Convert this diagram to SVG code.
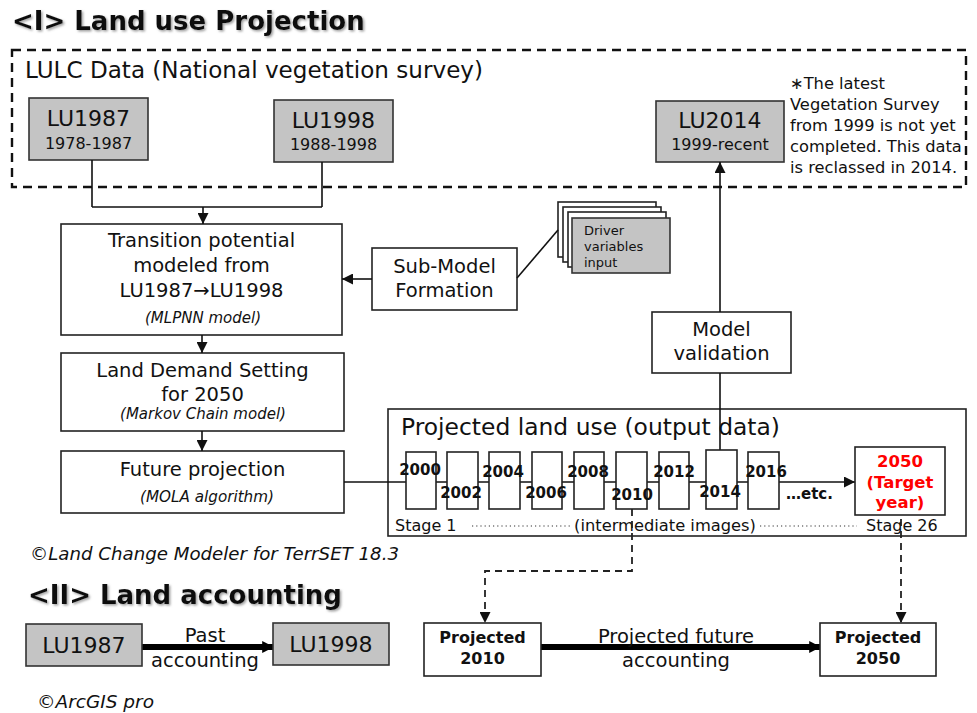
<svg xmlns="http://www.w3.org/2000/svg" width="977" height="713" viewBox="0 0 977 713">
<defs>
<style>
text{font-family:"DejaVu Sans","Liberation Sans",sans-serif;fill:#111}
.box{fill:#fff;stroke:#222;stroke-width:1.6}
.gray{fill:#c4c4c4;stroke:#333;stroke-width:1.6}
.ln{fill:none;stroke:#111;stroke-width:1.6}
.dash{fill:none;stroke:#222;stroke-width:1.8;stroke-dasharray:7 5}
.thick{fill:none;stroke:#000;stroke-width:6}
.title{font-weight:bold;font-size:26px;filter:url(#sh)}
.c{text-anchor:middle}
.it{font-style:italic}
.yr{font-weight:bold;font-size:15px;text-anchor:middle}
.red{font-weight:bold;font-size:16.5px;text-anchor:middle;fill:#f00}
</style>
<filter id="sh" x="-5%" y="-20%" width="110%" height="150%">
<feDropShadow dx="1.5" dy="1.5" stdDeviation="1" flood-color="#777" flood-opacity="0.7"/>
</filter>
<marker id="ah" viewBox="0 0 10 10" refX="10" refY="5" markerWidth="11" markerHeight="11" markerUnits="userSpaceOnUse" orient="auto">
<path d="M0,0 L10,5 L0,10 z" fill="#111"/>
</marker>
<marker id="ahb" viewBox="0 0 10 10" refX="9" refY="5" markerWidth="12" markerHeight="14" markerUnits="userSpaceOnUse" orient="auto">
<path d="M0,0 L10,5 L0,10 z" fill="#000"/>
</marker>
</defs>
<rect width="977" height="713" fill="#fff"/>

<text class="title" x="12" y="30">&lt;I&gt; Land use Projection</text>

<g id="lulc">
<rect x="12" y="50" width="954" height="137" fill="none" stroke="#111" stroke-width="2.4" stroke-dasharray="9 6"/>
<text x="25" y="78" font-size="22.5" textLength="458" lengthAdjust="spacingAndGlyphs">LULC Data (National vegetation survey)</text>
</g>

<g id="lu1987">
<rect class="gray" x="29" y="98" width="119" height="62"/>
<text class="c" x="88.5" y="126" font-size="22">LU1987</text>
<text class="c" x="88.5" y="149" font-size="16">1978-1987</text>
</g>
<g id="lu1998">
<rect class="gray" x="274" y="100" width="119" height="62"/>
<text class="c" x="333.5" y="128" font-size="22">LU1998</text>
<text class="c" x="333.5" y="150" font-size="16">1988-1998</text>
</g>
<g id="lu2014">
<rect class="gray" x="656" y="101" width="128" height="61"/>
<text class="c" x="720" y="128" font-size="22">LU2014</text>
<text class="c" x="720" y="150" font-size="16">1999-recent</text>
</g>
<g id="note" font-size="16.3">
<text x="790" y="89">∗The latest</text>
<text x="790" y="110">Vegetation Survey</text>
<text x="790" y="131">from 1999 is not yet</text>
<text x="790" y="152">completed. This data</text>
<text x="790" y="173">is reclassed in 2014.</text>
</g>

<g id="transition">
<rect class="box" x="61" y="224" width="281" height="111"/>
<text class="c" x="201.5" y="247" font-size="19.5">Transition potential</text>
<text class="c" x="201.5" y="272" font-size="19.5">modeled from</text>
<text class="c" x="201.5" y="297" font-size="19.5">LU1987→LU1998</text>
<text class="c it" x="203" y="323" font-size="15" fill="#333">(MLPNN model)</text>
</g>
<g id="demand">
<rect class="box" x="61" y="353" width="283" height="78"/>
<text class="c" x="202.5" y="377" font-size="19.5">Land Demand Setting</text>
<text class="c" x="202.5" y="401" font-size="19.5">for 2050</text>
<text class="c it" x="203" y="419" font-size="15" fill="#333">(Markov Chain model)</text>
</g>
<g id="future">
<rect class="box" x="61" y="451" width="283" height="62"/>
<text class="c" x="202.5" y="476" font-size="19.5">Future projection</text>
<text class="c it" x="207" y="502" font-size="15.2" fill="#333">(MOLA algorithm)</text>
</g>
<g id="submodel">
<rect class="box" x="372" y="248" width="145" height="62"/>
<text class="c" x="444.5" y="273" font-size="19.5">Sub-Model</text>
<text class="c" x="444.5" y="297" font-size="19.5">Formation</text>
</g>
<g id="driver">
<rect class="box" x="558" y="202" width="98" height="55" stroke="#111"/>
<rect class="box" x="563" y="207" width="98" height="55" stroke="#111"/>
<rect class="box" x="568" y="212" width="98" height="55" stroke="#111"/>
<rect class="gray" x="572" y="218" width="98" height="55" stroke="#555"/>
<text x="584" y="235" font-size="13" fill="#333">Driver</text>
<text x="584" y="251" font-size="13" fill="#333">variables</text>
<text x="584" y="267" font-size="13" fill="#333">input</text>
</g>
<g id="validation">
<rect class="box" x="652" y="312" width="139" height="61"/>
<text class="c" x="721.5" y="336" font-size="19.5">Model</text>
<text class="c" x="721.5" y="360" font-size="19.5">validation</text>
</g>

<g id="projected">
<rect class="box" x="388" y="409" width="578" height="127"/>
<text x="401" y="435" font-size="23" textLength="379" lengthAdjust="spacingAndGlyphs">Projected land use (output data)</text>
<text x="395" y="531" font-size="16">Stage 1</text>
<text class="c" x="665" y="531" font-size="16.3">(intermediate images)</text>
<text x="866" y="531" font-size="16">Stage 26</text>
<line x1="472" y1="526" x2="571" y2="526" stroke="#333" stroke-width="1.2" stroke-dasharray="1.2 3"/>
<line x1="760" y1="526" x2="857" y2="526" stroke="#333" stroke-width="1.2" stroke-dasharray="1.2 3"/>
</g>

<g id="connectors">
<path class="ln" d="M92,160 V207 M322,162 V207 M92,207 H322"/>
<path class="ln" d="M203,207 V224" marker-end="url(#ah)"/>
<path class="ln" d="M202,335 V353" marker-end="url(#ah)"/>
<path class="ln" d="M202,431 V451" marker-end="url(#ah)"/>
<path class="ln" d="M372,279 H342" marker-end="url(#ah)"/>
<path class="ln" d="M517,278 L558,230"/>
<path class="ln" d="M720,312 V162" marker-end="url(#ah)"/>
<path class="ln" d="M720,373 V450"/>
<path class="ln" d="M344,482 H779"/>
<path class="ln" d="M779,482 H855" marker-end="url(#ah)"/>
<path class="dash" d="M632,509 V571 H485 V623" marker-end="url(#ah)"/>
<path class="dash" d="M901,507 V623" marker-end="url(#ah)"/>
<path class="thick" d="M142,647 H273" marker-end="url(#ahb)"/>
<path class="thick" d="M541,647 H820" marker-end="url(#ahb)"/>
</g>

<g id="years">
<rect class="box" x="406" y="452" width="30" height="57"/>
<rect class="box" x="447" y="452" width="31" height="57"/>
<rect class="box" x="489" y="452" width="31" height="57"/>
<rect class="box" x="532" y="452" width="30" height="57"/>
<rect class="box" x="574" y="452" width="30" height="57"/>
<rect class="box" x="616" y="452" width="31" height="57"/>
<rect class="box" x="659" y="452" width="30" height="57"/>
<rect class="box" x="706" y="450" width="31" height="59"/>
<rect class="box" x="748" y="452" width="31" height="57"/>
<text class="yr" x="420" y="475">2000</text>
<text class="yr" x="461" y="498">2002</text>
<text class="yr" x="503" y="477">2004</text>
<text class="yr" x="546" y="498">2006</text>
<text class="yr" x="588" y="477">2008</text>
<text class="yr" x="632" y="500">2010</text>
<text class="yr" x="674" y="477">2012</text>
<text class="yr" x="720" y="497">2014</text>
<text class="yr" x="766" y="477">2016</text>
<text x="786" y="499" font-weight="bold" font-size="15">…etc.</text>
</g>
<g id="target">
<rect class="box" x="855" y="447" width="90" height="68"/>
<text class="red" x="900" y="467">2050</text>
<text class="red" x="900" y="488">(Target</text>
<text class="red" x="900" y="508">year)</text>
</g>

<text class="it" x="30" y="560" font-size="18.2" fill="#222">©Land Change Modeler for TerrSET 18.3</text>

<text class="title" x="28" y="604">&lt;II&gt; Land accounting</text>

<g id="acc1987">
<rect class="gray" x="26" y="624" width="116" height="42"/>
<text class="c" x="84" y="653" font-size="22">LU1987</text>
</g>
<g id="acc1998">
<rect class="gray" x="273" y="623" width="116" height="42"/>
<text class="c" x="331" y="652" font-size="22">LU1998</text>
</g>
<text class="c" x="205" y="642" font-size="19.5">Past</text>
<text class="c" x="205" y="667" font-size="19.5">accounting</text>

<g id="proj2010">
<rect class="box" x="424" y="623" width="117" height="53"/>
<text class="c" x="482.5" y="643" font-weight="bold" font-size="16">Projected</text>
<text class="c" x="482.5" y="664" font-weight="bold" font-size="16">2010</text>
</g>
<g id="proj2050">
<rect class="box" x="820" y="623" width="116" height="53"/>
<text class="c" x="878" y="643" font-weight="bold" font-size="16">Projected</text>
<text class="c" x="878" y="664" font-weight="bold" font-size="16">2050</text>
</g>
<text class="c" x="676" y="643" font-size="19.5">Projected future</text>
<text class="c" x="676" y="667" font-size="19.5">accounting</text>

<text class="it" x="37" y="708" font-size="18.5" fill="#222">©ArcGIS pro</text>
</svg>
